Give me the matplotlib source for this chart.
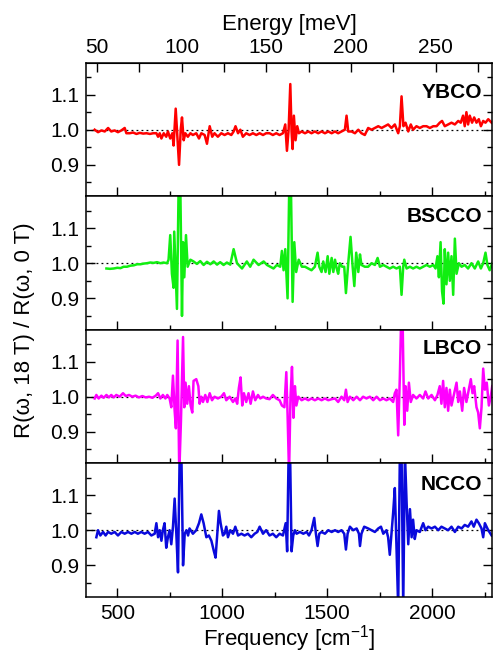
import numpy as np
import matplotlib
matplotlib.use('Agg')
import matplotlib.pyplot as plt
from matplotlib.ticker import MultipleLocator, FixedLocator

plt.rcParams['font.family'] = ['Liberation Sans', 'DejaVu Sans']
plt.rcParams['mathtext.default'] = 'regular'

# Data: (frequency [cm^-1], R(18T)/R(0T))
ybco_pts = [
    (392, 1.0), (408, 0.993), (424, 0.998), (440, 0.995), (456, 1.005), (471, 0.995),
    (487, 0.998), (503, 0.993), (519, 0.998), (535, 1.005), (543, 0.99), (559, 0.99),
    (575, 0.992), (591, 0.988), (607, 0.991), (623, 0.989), (639, 0.99), (655, 0.988),
    (671, 0.99), (686, 0.99), (694, 0.98), (702, 0.99), (710, 0.975), (721, 0.99),
    (733, 0.98), (741, 0.995), (752, 0.975), (762, 0.99), (768, 0.955), (778, 1.06),
    (786, 0.98), (794, 0.90), (802, 1.0), (808, 1.035), (816, 0.97), (824, 0.99),
    (836, 0.98), (848, 0.99), (860, 0.985), (876, 0.99), (889, 0.975), (900, 0.99),
    (916, 0.985), (927, 0.96), (940, 1.01), (952, 0.98), (963, 0.99), (979, 0.98),
    (995, 0.99), (1011, 0.985), (1027, 0.99), (1043, 0.985), (1054, 0.995), (1063, 1.01),
    (1075, 0.99), (1086, 1.0), (1098, 0.98), (1114, 0.99), (1130, 0.985), (1146, 0.99),
    (1162, 0.985), (1178, 0.99), (1194, 0.985), (1209, 0.99), (1225, 0.99), (1241, 0.985),
    (1257, 0.99), (1273, 0.985), (1289, 0.99), (1300, 1.015), (1308, 0.94), (1316, 1.0),
    (1324, 1.13), (1330, 0.995), (1335, 0.945), (1341, 1.04), (1349, 0.97), (1357, 1.01),
    (1365, 0.99), (1378, 0.995), (1394, 0.99), (1410, 0.995), (1425, 0.99), (1441, 0.995),
    (1457, 0.99), (1473, 0.995), (1489, 0.99), (1505, 0.995), (1521, 0.99), (1537, 0.995),
    (1552, 0.99), (1568, 0.995), (1584, 1.0), (1592, 1.04), (1600, 0.995), (1616, 0.995),
    (1632, 0.99), (1648, 1.0), (1663, 0.99), (1679, 0.985), (1695, 1.005), (1711, 1.0),
    (1727, 1.005), (1743, 1.01), (1759, 1.005), (1775, 1.01), (1790, 1.015), (1806, 1.005),
    (1822, 1.015), (1838, 0.99), (1846, 1.01), (1854, 1.095), (1863, 1.01), (1873, 1.02),
    (1886, 0.995), (1898, 1.015), (1909, 1.0), (1925, 1.01), (1941, 1.005), (1957, 1.01),
    (1973, 1.01), (1989, 1.005), (2005, 1.01), (2021, 1.01), (2036, 1.02), (2047, 1.025),
    (2060, 1.01), (2076, 1.015), (2092, 1.02), (2108, 1.015), (2124, 1.025), (2136, 1.02),
    (2147, 1.04), (2155, 1.01), (2163, 1.05), (2171, 1.015), (2179, 1.04), (2190, 1.02),
    (2200, 1.035), (2211, 1.02), (2222, 1.03), (2232, 1.01), (2243, 1.025), (2254, 1.02),
    (2267, 1.03), (2283, 1.02),
]

bscco_pts = [
    (448, 0.985), (465, 0.984), (483, 0.985), (500, 0.987), (515, 0.986), (530, 0.99),
    (546, 0.99), (562, 0.993), (578, 0.994), (594, 0.997), (610, 0.997), (626, 0.999),
    (641, 1.0), (657, 1.002), (673, 1.001), (689, 1.003), (705, 1.0), (720, 1.002),
    (737, 1.0), (744, 1.01), (752, 1.08), (760, 0.97), (768, 0.93), (771, 1.09),
    (779, 0.95), (784, 0.87), (792, 1.22), (800, 1.22), (808, 0.85), (813, 1.06),
    (819, 0.96), (827, 1.08), (835, 0.99), (848, 1.01), (863, 1.005), (879, 0.998),
    (895, 1.006), (911, 0.995), (927, 1.004), (943, 0.997), (959, 1.005), (975, 0.996),
    (990, 1.003), (1006, 0.995), (1022, 1.002), (1038, 0.996), (1054, 1.04), (1070, 1.0),
    (1094, 0.985), (1117, 1.005), (1133, 0.99), (1149, 1.01), (1173, 0.995), (1197, 1.005),
    (1213, 0.995), (1228, 0.99), (1244, 0.985), (1260, 0.995), (1276, 0.99), (1284, 1.035),
    (1292, 0.98), (1300, 1.04), (1311, 0.90), (1319, 1.22), (1327, 1.22), (1335, 0.89),
    (1343, 1.06), (1352, 0.975), (1364, 1.01), (1379, 0.99), (1394, 0.99), (1410, 0.985),
    (1425, 0.98), (1441, 0.99), (1454, 1.03), (1462, 0.99), (1473, 0.975), (1481, 1.005),
    (1492, 0.975), (1502, 1.02), (1510, 0.97), (1521, 1.015), (1529, 0.975), (1537, 1.01),
    (1545, 0.985), (1552, 0.97), (1560, 1.0), (1571, 0.99), (1581, 0.99), (1589, 0.915),
    (1600, 1.0), (1611, 1.075), (1621, 0.99), (1629, 0.935), (1638, 1.03), (1648, 0.975),
    (1656, 1.025), (1663, 0.995), (1679, 0.99), (1695, 0.99), (1711, 1.0), (1727, 0.995),
    (1740, 1.015), (1751, 0.99), (1767, 0.995), (1782, 0.99), (1798, 0.985), (1814, 0.99),
    (1830, 0.985), (1846, 0.99), (1854, 0.91), (1862, 0.99), (1867, 1.01), (1878, 0.985),
    (1894, 0.99), (1909, 0.985), (1925, 0.99), (1941, 0.985), (1957, 0.99), (1973, 0.995),
    (1989, 0.99), (2005, 0.995), (2016, 0.985), (2025, 1.02), (2032, 0.96), (2040, 1.06),
    (2047, 0.92), (2054, 0.885), (2060, 1.04), (2068, 0.94), (2076, 1.03), (2084, 0.95),
    (2092, 1.02), (2100, 0.91), (2108, 1.07), (2116, 0.97), (2127, 1.0), (2140, 0.99),
    (2155, 0.995), (2171, 0.985), (2187, 1.0), (2203, 0.985), (2219, 1.005), (2232, 0.985),
    (2243, 1.0), (2254, 1.03), (2263, 0.995), (2274, 0.98), (2286, 1.0),
]

lbco_pts = [
    (392, 0.995), (400, 1.005), (411, 0.995), (424, 1.003), (435, 0.997), (448, 1.005),
    (460, 0.998), (471, 1.005), (483, 0.998), (495, 1.005), (511, 1.0), (527, 1.01),
    (540, 1.002), (556, 1.005), (571, 1.0), (587, 1.003), (603, 0.998), (619, 1.002),
    (635, 0.998), (651, 1.0), (667, 0.997), (683, 1.003), (694, 1.01), (705, 0.995),
    (717, 1.005), (729, 0.995), (738, 1.005), (749, 0.995), (757, 0.97), (765, 1.06),
    (773, 0.96), (779, 0.91), (787, 1.16), (795, 0.78), (803, 0.93), (813, 1.17),
    (819, 0.97), (825, 1.04), (833, 0.98), (841, 1.03), (849, 0.975), (857, 0.955),
    (863, 1.045), (876, 1.05), (886, 1.03), (892, 0.98), (900, 1.0), (908, 0.985),
    (919, 1.005), (929, 0.985), (940, 1.01), (951, 0.99), (963, 1.0), (979, 0.995),
    (995, 1.0), (1008, 1.01), (1019, 0.99), (1035, 1.0), (1051, 0.985), (1062, 0.995),
    (1071, 0.98), (1079, 1.025), (1087, 1.055), (1095, 0.975), (1103, 1.01), (1114, 0.985),
    (1125, 1.01), (1135, 0.98), (1146, 1.015), (1157, 0.99), (1170, 1.005), (1181, 0.995),
    (1194, 1.0), (1209, 0.995), (1225, 0.993), (1241, 1.005), (1257, 0.995), (1273, 0.99),
    (1284, 0.975), (1296, 0.97), (1305, 1.07), (1311, 0.95), (1318, 0.78), (1325, 1.0),
    (1332, 1.085), (1339, 0.94), (1346, 1.03), (1353, 0.975), (1362, 1.0), (1378, 0.99),
    (1394, 0.995), (1410, 0.99), (1425, 0.995), (1441, 0.99), (1457, 0.995), (1473, 0.99),
    (1489, 0.995), (1505, 0.99), (1521, 0.993), (1537, 0.995), (1552, 0.985), (1568, 1.0),
    (1581, 0.99), (1589, 1.02), (1597, 0.985), (1608, 1.0), (1624, 0.99), (1640, 1.0),
    (1656, 0.99), (1671, 1.0), (1687, 0.995), (1703, 1.0), (1719, 0.99), (1735, 1.0),
    (1751, 0.99), (1767, 0.995), (1782, 0.99), (1798, 0.995), (1814, 0.985), (1822, 1.01),
    (1830, 1.02), (1838, 0.89), (1846, 1.06), (1852, 1.22), (1859, 1.22), (1867, 0.92),
    (1873, 1.03), (1881, 0.96), (1889, 1.04), (1898, 0.985), (1909, 1.005), (1925, 0.995),
    (1941, 1.005), (1957, 0.995), (1968, 1.015), (1981, 0.995), (1997, 1.005), (2013, 0.99),
    (2025, 1.005), (2036, 1.03), (2044, 0.98), (2052, 1.045), (2060, 0.97), (2068, 1.025),
    (2076, 0.96), (2084, 1.02), (2092, 0.975), (2103, 1.005), (2116, 1.04), (2124, 0.985),
    (2132, 1.015), (2143, 0.96), (2152, 1.025), (2163, 0.985), (2171, 1.01), (2184, 1.05),
    (2192, 1.01), (2200, 1.03), (2211, 0.97), (2219, 0.955), (2227, 0.91), (2235, 0.97),
    (2243, 1.08), (2251, 1.02), (2260, 1.04), (2270, 0.975), (2279, 1.0), (2286, 1.03),
]

ncco_pts = [
    (400, 0.98), (408, 1.0), (419, 0.985), (432, 0.995), (444, 0.985), (456, 0.995),
    (471, 0.99), (487, 0.995), (503, 0.985), (519, 0.995), (535, 0.99), (551, 0.995),
    (567, 0.99), (583, 0.995), (598, 0.99), (614, 0.995), (630, 0.99), (646, 0.995),
    (662, 0.985), (678, 0.99), (686, 1.02), (694, 0.98), (702, 1.0), (710, 0.97),
    (717, 1.0), (725, 1.02), (733, 0.95), (741, 0.98), (749, 1.0), (757, 0.96),
    (765, 1.01), (773, 1.09), (781, 0.99), (789, 0.88), (797, 1.22), (805, 1.22),
    (813, 0.90), (821, 0.99), (829, 1.0), (837, 0.985), (844, 1.005), (860, 0.99),
    (876, 1.0), (889, 1.02), (900, 1.045), (911, 1.02), (924, 0.98), (936, 0.985),
    (948, 0.97), (960, 0.94), (968, 0.922), (976, 0.99), (984, 1.055), (992, 1.02),
    (1003, 0.985), (1011, 0.99), (1019, 1.01), (1027, 0.98), (1038, 1.0), (1051, 0.99),
    (1062, 1.01), (1075, 0.985), (1091, 0.99), (1106, 0.985), (1122, 0.99), (1138, 0.98),
    (1154, 0.99), (1167, 0.995), (1178, 1.01), (1194, 0.99), (1209, 1.0), (1225, 0.985),
    (1241, 0.99), (1257, 0.98), (1273, 0.99), (1289, 0.985), (1302, 1.02), (1309, 0.94),
    (1316, 1.22), (1323, 1.22), (1330, 0.94), (1338, 0.985), (1346, 1.0), (1354, 0.99),
    (1370, 0.995), (1386, 0.99), (1402, 0.995), (1413, 0.985), (1425, 1.0), (1438, 1.035),
    (1446, 0.99), (1454, 0.955), (1462, 0.99), (1473, 0.995), (1489, 0.99), (1505, 1.0),
    (1521, 0.995), (1537, 1.0), (1552, 0.995), (1568, 1.0), (1581, 0.99), (1589, 0.945),
    (1597, 0.99), (1608, 1.01), (1624, 1.0), (1640, 1.005), (1651, 0.99), (1656, 0.955),
    (1663, 0.99), (1676, 1.01), (1695, 1.005), (1711, 1.0), (1727, 0.995), (1743, 1.005),
    (1756, 1.01), (1767, 0.99), (1782, 1.0), (1790, 0.98), (1798, 0.93), (1806, 0.99),
    (1814, 1.05), (1822, 1.12), (1830, 0.95), (1838, 0.78), (1846, 1.22), (1854, 1.22),
    (1862, 0.78), (1870, 1.22), (1878, 1.08), (1886, 0.96), (1894, 1.06), (1902, 0.98),
    (1909, 1.03), (1917, 0.975), (1925, 1.0), (1941, 0.995), (1957, 1.02), (1968, 1.0),
    (1981, 1.01), (1997, 1.005), (2013, 1.01), (2029, 1.0), (2044, 1.01), (2060, 1.005),
    (2076, 1.0), (2092, 1.01), (2108, 0.995), (2124, 1.01), (2140, 1.005), (2155, 1.015),
    (2171, 1.01), (2187, 1.025), (2198, 1.01), (2211, 1.03), (2222, 1.02), (2235, 1.005),
    (2243, 0.98), (2251, 1.02), (2267, 1.0), (2283, 0.985),
]

names = ['YBCO', 'BSCCO', 'LBCO', 'NCCO']
colors = ['#ff0000', '#11ee11', '#ff00ff', '#0a0adc']
series = [ybco_pts, bscco_pts, lbco_pts, ncco_pts]
label_y = [0.78, 0.85, 0.86, 0.84]
energy_ticks = [50, 100, 150, 200, 250]

CM_PER_MEV = 8.0655

fig, axes = plt.subplots(4, 1, sharex=True, figsize=(4.93, 6.56), dpi=100)
fig.subplots_adjust(left=0.175, right=0.998, top=0.904, bottom=0.09, hspace=0)

for ax, name, col, pts, ly in zip(axes, names, colors, series, label_y):
    x = np.array([p[0] for p in pts])
    y = np.array([p[1] for p in pts])
    ax.axhline(1.0, color='black', lw=0.9, ls=(0, (1.5, 2.5)), zorder=1)
    ax.plot(x, y, color=col, lw=1.8, zorder=2)
    ax.set_xlim(352, 2285)
    ax.set_ylim(0.81, 1.19)
    ax.yaxis.set_minor_locator(MultipleLocator(0.05))
    ax.xaxis.set_major_locator(MultipleLocator(500))
    ax.xaxis.set_minor_locator(MultipleLocator(250))
    ax.tick_params(which='both', direction='in', left=True, right=True,
                   top=False, bottom=True, width=1.0, labelsize=15, pad=5)
    ax.tick_params(which='major', length=6.5)
    ax.tick_params(which='minor', length=3.5)
    ax.set_yticks([0.9, 1.0, 1.1])
    ax.set_yticklabels(['0.9', '1.0', '1.1'])
    for s in ax.spines.values():
        s.set_linewidth(1.1)
    ax.text(0.975, ly, name, transform=ax.transAxes, ha='right', va='center',
            fontsize=15, fontweight='bold')

axes[-1].set_xlabel('Frequency [cm$^{-1}$]', fontsize=16, labelpad=0)
axes[-1].tick_params(axis='x', pad=5)

top = axes[0].secondary_xaxis('top', functions=(lambda v: v / CM_PER_MEV,
                                                lambda e: e * CM_PER_MEV))
top.xaxis.set_major_locator(FixedLocator(energy_ticks))
top.xaxis.set_minor_locator(FixedLocator([75, 125, 175, 225, 275]))
top.tick_params(which='both', direction='in', width=1.0, labelsize=15, pad=4)
top.tick_params(which='major', length=6.5)
top.tick_params(which='minor', length=6.5)
top.set_xlabel('Energy [meV]', fontsize=16, labelpad=6)

fig.text(0.05, 0.497, 'R(ω, 18 T) / R(ω, 0 T)', rotation=90, ha='center',
         va='center', fontsize=16)

fig.savefig('out.png', dpi=100)
